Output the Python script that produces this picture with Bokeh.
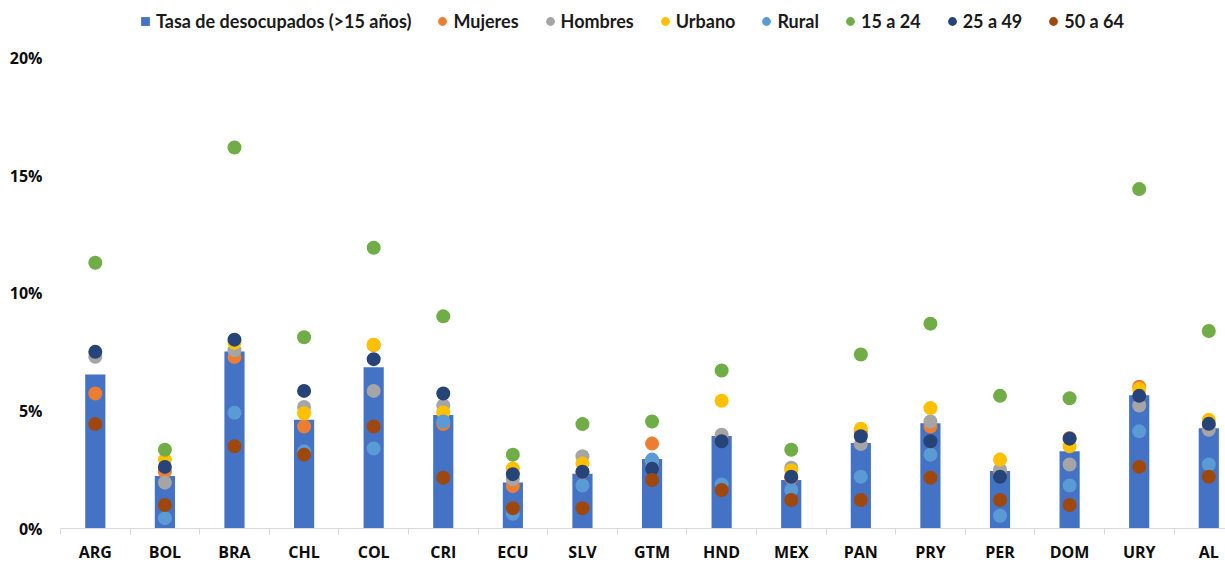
import numpy as np
from bokeh.plotting import figure
from bokeh.models import (ColumnDataSource, Range1d, FixedTicker, Legend, LegendItem)
from bokeh.embed import file_html
from bokeh.resources import INLINE

nan = float("nan")

countries = ["ARG", "BOL", "BRA", "CHL", "COL", "CRI", "ECU", "SLV", "GTM",
             "HND", "MEX", "PAN", "PRY", "PER", "DOM", "URY", "AL"]
total = [6.55, 2.23, 7.53, 4.62, 6.86, 4.83, 1.96, 2.33, 2.95, 3.93, 2.06, 3.64, 4.47, 2.44, 3.28, 5.67, 4.26]
mujeres = [5.74, 2.41, 7.29, 4.34, 7.80, 4.44, 1.80, 2.40, 3.61, 3.75, 2.15, 4.10, 4.34, 2.30, 3.85, 6.03, 4.40]
hombres = [7.30, 1.95, 7.58, 5.17, 5.85, 5.23, 2.09, 3.07, 2.60, 3.99, 2.58, 3.59, 4.55, 2.51, 2.72, 5.23, 4.20]
urbano = [nan, 2.93, 7.90, 4.90, 7.81, 4.93, 2.55, 2.76, 2.90, 5.43, 2.47, 4.24, 5.12, 2.93, 3.50, 5.93, 4.62]
rural = [nan, 0.44, 4.92, 3.28, 3.40, 4.55, 0.63, 1.83, 2.93, 1.87, 1.64, 2.20, 3.14, 0.54, 1.83, 4.13, 2.72]
g15_24 = [11.30, 3.35, 16.20, 8.13, 11.94, 9.02, 3.14, 4.44, 4.55, 6.72, 3.35, 7.40, 8.71, 5.64, 5.54, 14.43, 8.40]
g25_49 = [7.51, 2.62, 8.03, 5.85, 7.20, 5.74, 2.31, 2.41, 2.54, 3.71, 2.20, 3.92, 3.71, 2.20, 3.82, 5.64, 4.45]
g50_64 = [4.44, 1.00, 3.50, 3.14, 4.34, 2.16, 0.86, 0.86, 2.06, 1.64, 1.21, 1.21, 2.16, 1.21, 1.00, 2.62, 2.20]
y_ticks = [0, 5, 10, 15, 20]
y_tick_labels = ["0%", "5%", "10%", "15%", "20%"]

bar_label = "Tasa de desocupados (>15 años)"
series = [
    ("Mujeres", mujeres, "#ED7D31"),
    ("Hombres", hombres, "#A5A5A5"),
    ("Urbano", urbano, "#FFC000"),
    ("Rural", rural, "#5B9BD5"),
    ("15 a 24", g15_24, "#70AD47"),
    ("25 a 49", g25_49, "#264478"),
    ("50 a 64", g50_64, "#9E480E"),
]

xc = np.arange(len(countries)) + 0.5
data = {"x": xc, "total": np.array(total, dtype=float)}
for i, (name, vals, col) in enumerate(series):
    data[f"s{i}"] = np.array(vals, dtype=float)
src = ColumnDataSource(data)

W, H = 1225, 565
# frame spans the full height above the x axis so the legend can sit at its top;
# the y axis ticks stop at 20 %
p = figure(width=W, height=H, output_backend="svg", toolbar_location=None,
           x_range=Range1d(0, 16.74), y_range=Range1d(0, 22.45),
           min_border_left=60, min_border_right=0, min_border_top=0, min_border_bottom=34)
p.outline_line_color = None
p.xgrid.visible = False
p.ygrid.visible = False
p.background_fill_color = "white"
p.border_fill_color = "white"

p.vbar(x="x", top="total", bottom=0, width=0.29, source=src,
       fill_color="#4472C4", line_color=None)

items = []
# legend-only swatch for the bars (its point lies outside the visible range)
sq_src = ColumnDataSource({"x": [-5.0], "y": [-5.0]})
sq = p.scatter(x="x", y="y", source=sq_src, marker="square", size=10,
               fill_color="#4472C4", line_color=None)
items.append(LegendItem(label=bar_label, renderers=[sq]))
for i, (name, vals, col) in enumerate(series):
    r = p.scatter(x="x", y=f"s{i}", source=src, marker="circle", size=14,
                  fill_color=col, line_color=None)
    items.append(LegendItem(label=name, renderers=[r]))

legend = Legend(items=items, orientation="horizontal", location=(74, 496),
                glyph_width=22, glyph_height=22, label_standoff=0, spacing=20,
                padding=0, margin=0, border_line_color=None, background_fill_alpha=0,
                label_text_font="Lato", label_text_font_style="bold",
                label_text_font_size="18px", label_text_color="#1a1a1a",
                label_height=22)
p.add_layout(legend, "center")

font = "Open Sans"
xa = p.xaxis[0]
xa.ticker = FixedTicker(ticks=list(xc), minor_ticks=list(range(len(countries) + 1)))
xa.major_label_overrides = {float(x): c for x, c in zip(xc, countries)}
xa.major_tick_line_color = None
xa.major_tick_out = 0
xa.major_tick_in = 0
xa.minor_tick_line_color = "#d9d9d9"
xa.minor_tick_out = 6
xa.minor_tick_in = 0
xa.axis_line_color = "#d9d9d9"
xa.major_label_standoff = 6
xa.major_label_text_font = font
xa.major_label_text_font_style = "bold"
xa.major_label_text_font_size = "16px"
xa.major_label_text_color = "#0d0d0d"

ya = p.yaxis[0]
ya.ticker = FixedTicker(ticks=y_ticks, minor_ticks=[])
ya.major_label_overrides = {t: l for t, l in zip(y_ticks, y_tick_labels)}
ya.axis_line_color = None
ya.major_tick_line_color = None
ya.major_tick_out = 0
ya.major_tick_in = 0
ya.minor_tick_line_color = None
ya.major_label_standoff = 18
ya.major_label_text_font = font
ya.major_label_text_font_style = "bold"
ya.major_label_text_font_size = "16px"
ya.major_label_text_color = "#0d0d0d"

open("out.html", "w").write(file_html(p, INLINE))
